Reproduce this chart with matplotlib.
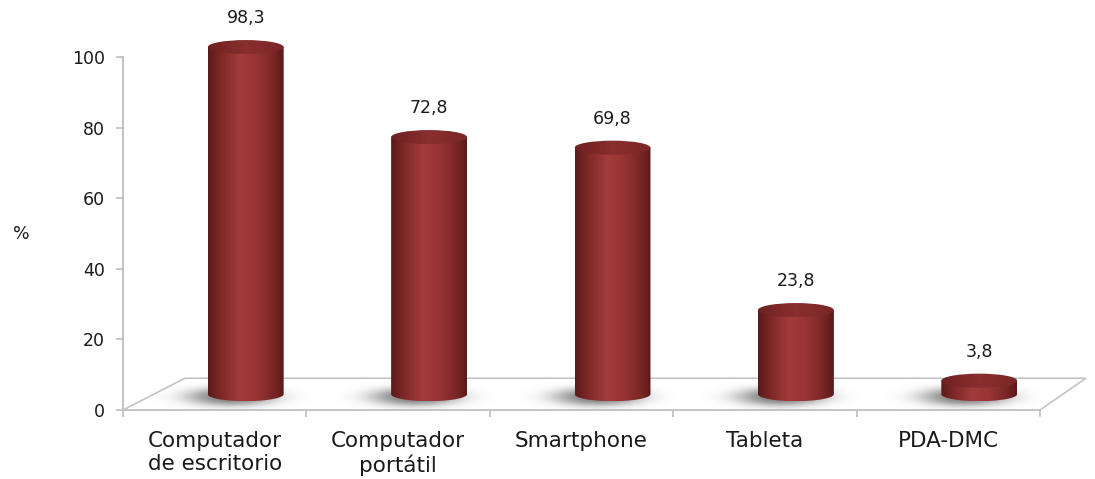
import matplotlib
matplotlib.use('Agg')
import matplotlib.pyplot as plt
import numpy as np
from matplotlib.patches import Ellipse, Polygon, PathPatch
from matplotlib.path import Path
from matplotlib.colors import LinearSegmentedColormap

plt.rcParams['font.family'] = 'DejaVu Sans'

categories = ['Computador\nde escritorio', 'Computador\nportátil', 'Smartphone', 'Tableta', 'PDA-DMC']
values = [98.3, 72.8, 69.8, 23.8, 3.8]
value_labels = ['98,3', '72,8', '69,8', '23,8', '3,8']
yticks = [0, 20, 40, 60, 80, 100]

# profundidad del "piso" 3D en unidades de datos
dx, dy = 0.338, 9.0
dx_right = 0.25
bar_w = 0.414
ell_h = 4.0

body_cmap = LinearSegmentedColormap.from_list('body', [
    (0.0, '#5a1a1a'), (0.15, '#7c2626'), (0.42, '#a23b3b'),
    (0.62, '#9a3535'), (0.85, '#7c2727'), (1.0, '#5a1919')])
top_cmap = LinearSegmentedColormap.from_list('top', [
    (0.0, '#6e2222'), (0.5, '#8a2e2e'), (1.0, '#7a2727')])

fig = plt.figure(figsize=(10.95, 4.79), dpi=100)
ax = fig.add_axes([123 / 1095, 69 / 479, 917 / 1095, 353 / 479])

# piso
floor = Polygon([(-0.5, 0), (4.5, 0), (4.5 + dx_right, dy), (-0.5 + dx, dy)],
                closed=True, facecolor='white', edgecolor='#c4c4c4', lw=1.2,
                zorder=1, clip_on=False)
ax.add_patch(floor)

# mascara difusa para la sombra
gx, gy = np.meshgrid(np.linspace(-1, 1, 120), np.linspace(-1, 1, 60))
shadow = np.zeros((60, 120, 4))
shadow[..., :3] = 0.4
shadow[..., 3] = 0.85 * np.exp(-((gx / 0.55) ** 2 + (gy / 0.5) ** 2) ** 1.3)

n = len(values)
grad = np.linspace(0, 1, 256).reshape(1, -1)
for i in range(n):
    v = values[i]
    cx = i + dx / 2
    base = dy / 2
    top = base + v
    x0, x1 = cx - bar_w / 2, cx + bar_w / 2

    # sombra
    ax.imshow(shadow, aspect='auto', zorder=2, interpolation='bilinear',
              extent=[cx - 0.08 - bar_w * 1.05, cx - 0.08 + bar_w * 1.05,
                      base - 0.8 - ell_h * 1.3, base - 0.8 + ell_h * 1.3])

    # cuerpo del cilindro
    t = np.linspace(np.pi, 2 * np.pi, 60)
    pts = [(x0, top), (x0, base)]
    pts += [(cx + bar_w / 2 * np.cos(a), base + ell_h / 2 * np.sin(a)) for a in t]
    pts += [(x1, top), (x0, top)]
    clip = PathPatch(Path(pts), transform=ax.transData, facecolor='none',
                     edgecolor='none', clip_on=False)
    ax.add_patch(clip)
    im = ax.imshow(grad, cmap=body_cmap, aspect='auto', zorder=3,
                   extent=[x0, x1, base - ell_h / 2, top], interpolation='bilinear')
    im.set_clip_path(clip)
    im.set_clip_box(fig.bbox)

    # tapa superior
    tp = Ellipse((cx, top), bar_w, ell_h, transform=ax.transData,
                 facecolor='none', edgecolor='none', clip_on=False)
    ax.add_patch(tp)
    im2 = ax.imshow(grad, cmap=top_cmap, aspect='auto', zorder=4,
                    extent=[x0, x1, top - ell_h / 2, top + ell_h / 2],
                    interpolation='bilinear')
    im2.set_clip_path(tp)
    im2.set_clip_box(fig.bbox)

    ax.text(cx, top + 8.2, value_labels[i], ha='center', va='center',
            fontsize=12.5, color='#1a1a1a', zorder=5, clip_on=False)

ax.set_xlim(-0.5, 4.5)
ax.set_ylim(0, 100)

for s in ['top', 'right']:
    ax.spines[s].set_visible(False)
ax.spines['left'].set_color('#b8b8b8')
ax.spines['bottom'].set_color('#c4c4c4')
ax.spines['left'].set_linewidth(1.2)
ax.spines['bottom'].set_linewidth(1.2)
ax.spines['left'].set_zorder(1)

ax.set_yticks(yticks)
ax.tick_params(axis='y', length=5, width=1.1, color='#b8b8b8', labelsize=12.5,
               pad=8, labelcolor='#1a1a1a')
ax.set_xticks(range(n))
ax.set_xticklabels(categories, fontsize=15.5, linespacing=1.2, color='#1a1a1a')
ax.set_xticks(np.arange(-0.5, n, 1.0), minor=True)
ax.tick_params(axis='x', which='major', length=0, pad=15)
ax.tick_params(axis='x', which='minor', length=5, width=1.1, color='#b8b8b8')

fig.text(21 / 1095, 1 - 234 / 479, '%', ha='center', va='center',
         fontsize=12.5, color='#1a1a1a')

fig.savefig('out.png', dpi=100)
